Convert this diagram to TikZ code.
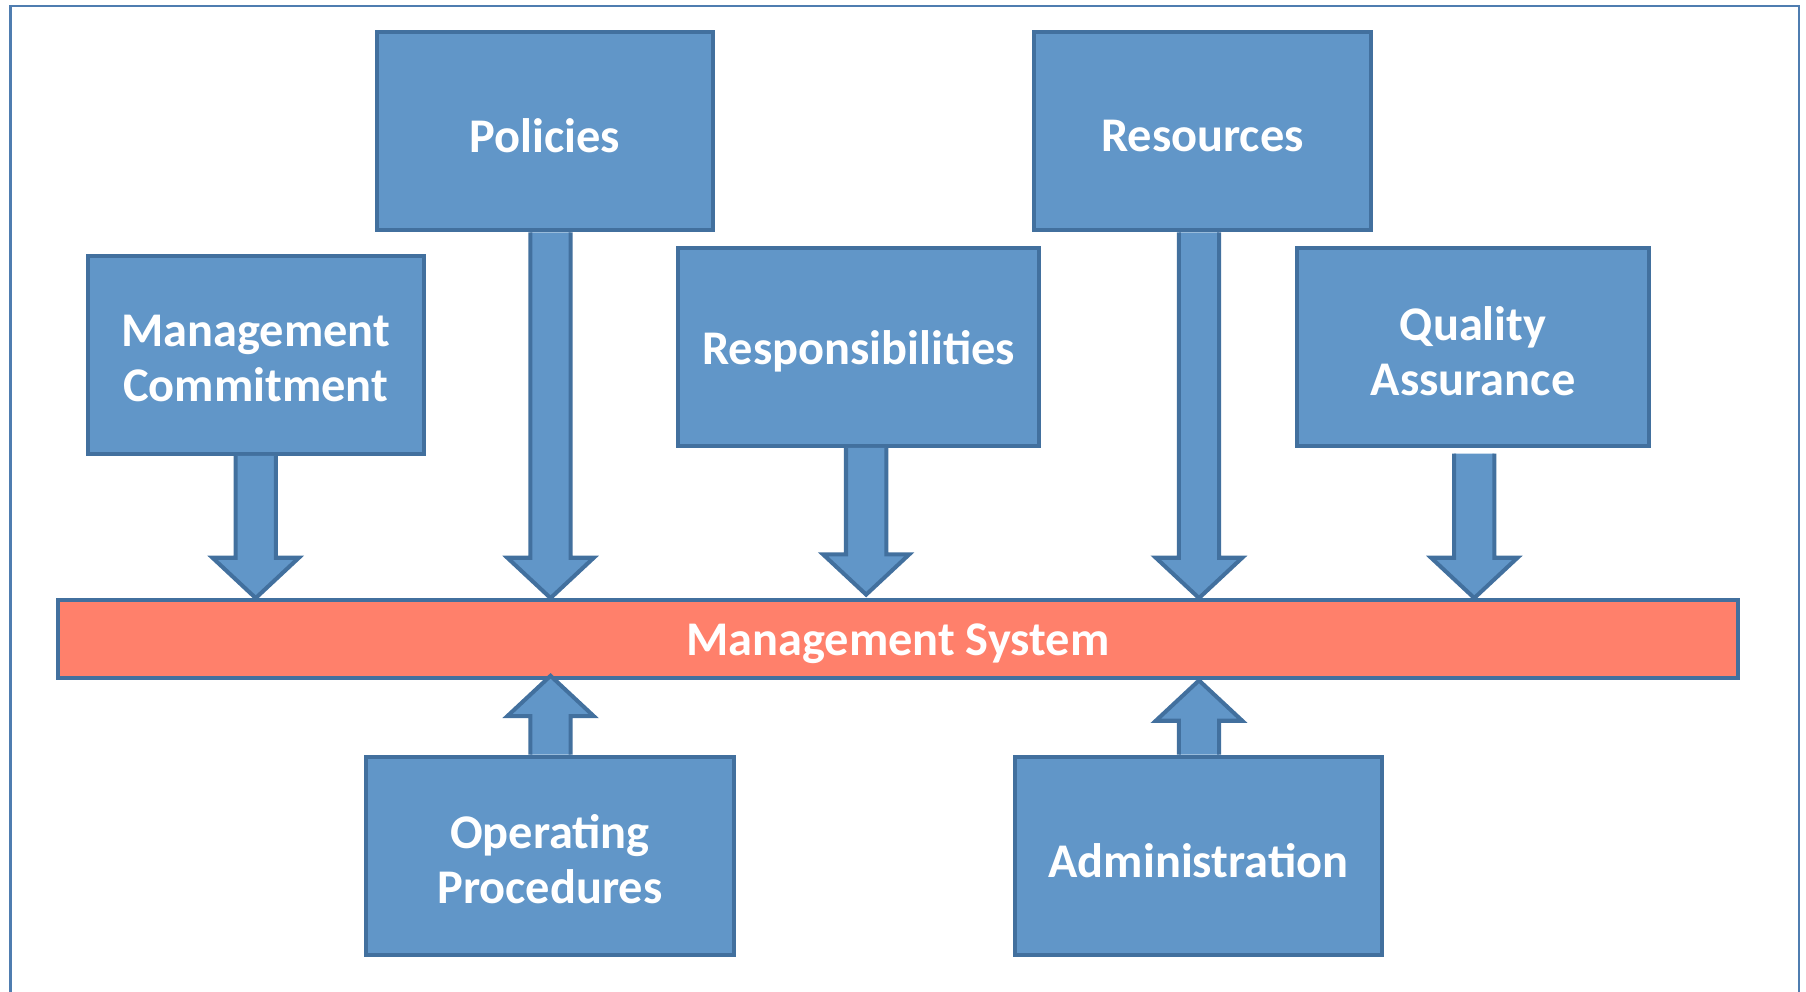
\documentclass[tikz,border=0pt]{standalone}
\usepackage{fontspec}
\setmainfont{Carlito}
\usetikzlibrary{calc}
\definecolor{boxfill}{RGB}{97,150,200}
\definecolor{boxline}{RGB}{66,112,158}
\definecolor{barfill}{RGB}{255,128,107}
\definecolor{framecol}{RGB}{79,125,176}
\tikzset{
  lbl/.style={text=white, align=center, inner sep=0pt,
    font=\fontsize{42}{48}\selectfont\bfseries},
  box/.style={draw=boxline, fill=boxfill, line width=3.5pt, inner sep=0pt},
  sysbar/.style={draw=boxline, fill=barfill, line width=3.5pt, inner sep=0pt},
  arrowbox/.style={draw=boxline, fill=boxfill, line width=3.5pt, line join=miter},
  frame/.style={draw=framecol, line width=2pt}
}
\newcommand\blkarrow[3]{%
  \draw[arrowbox] let \p1=(#1), \p2=(#2), \n1={#3*35pt} in
  (\x2-17.5pt,\y1) -- (\x2-17.5pt,\y2+\n1) -- (\x2-37.5pt,\y2+\n1) --
  (\x2,\y2) -- (\x2+37.5pt,\y2+\n1) -- (\x2+17.5pt,\y2+\n1) -- (\x2+17.5pt,\y1);}
\begin{document}
\begin{tikzpicture}[x=1pt,y=-1pt]
\useasboundingbox (0,0) rectangle (1568,861);
\draw[frame] (9,880) -- (9,5) -- (1562,5) -- (1562,880);

\node[box, minimum width=292pt, minimum height=172pt,
  label={[lbl,yshift=-4pt]center:Policies}] (pol) at (473,114) {};
\node[box, minimum width=292pt, minimum height=172pt,
  label={[lbl,yshift=-4pt]center:Resources}] (res) at (1044,114) {};
\node[box, minimum width=292pt, minimum height=172pt,
  label={[lbl,yshift=-3pt]center:Management\\Commitment}] (mc) at (222,308) {};
\node[box, minimum width=313pt, minimum height=172pt,
  label={[lbl,yshift=-4pt]center:Responsibilities}] (resp) at (745.5,301) {};
\node[box, minimum width=306pt, minimum height=172pt,
  label={[lbl,yshift=-4pt]center:Quality\\Assurance}] (qa) at (1279,301) {};
\node[sysbar, minimum width=1459pt, minimum height=68pt,
  label={[lbl,yshift=-4pt]center:Management System}] (bar) at (779.5,555) {};
\node[box, minimum width=319pt, minimum height=172pt,
  label={[lbl,yshift=-3pt]center:Operating\\Procedures}] (op) at (477.5,743) {};
\node[box, minimum width=319pt, minimum height=172pt,
  label={[lbl,yshift=-4pt]center:Administration}] (adm) at (1040.5,743) {};

\blkarrow{mc.south}{mc.south |- bar.north}{1}
\blkarrow{pol.south}{$(pol.south |- bar.north)+(5,0)$}{1}
\blkarrow{resp.south}{$(resp.south |- bar.north)+(6.5,-3)$}{1}
\blkarrow{res.south}{$(res.south |- bar.north)+(-3,0)$}{1}
\blkarrow{$(qa.south)+(0,5)$}{$(qa.south |- bar.north)+(1,0)$}{1}
\blkarrow{op.north}{$(op.north |- bar.south)+(0.5,-4)$}{-1}
\blkarrow{adm.north}{$(adm.north |- bar.south)+(0.5,0)$}{-1}
\end{tikzpicture}
\end{document}
